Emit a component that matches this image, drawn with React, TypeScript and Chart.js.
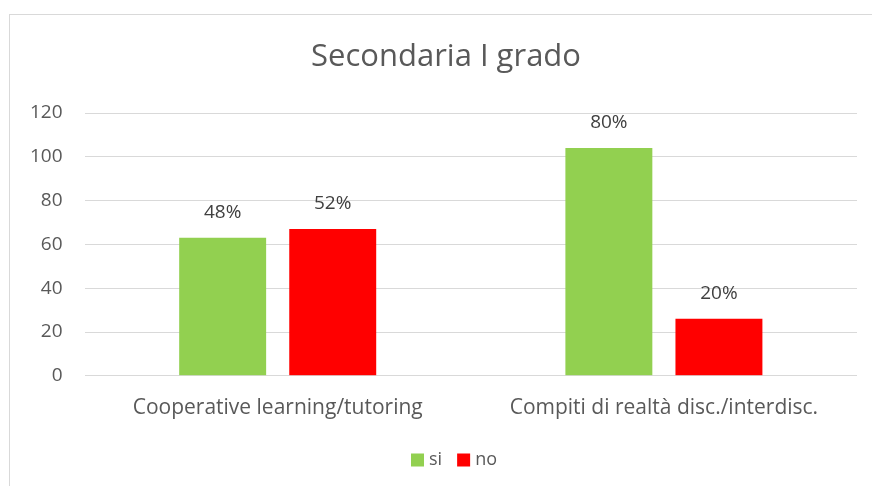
import React, { useEffect, useRef } from "react";
import { Chart, registerables } from "chart.js";

Chart.register(...registerables);

const title = "Secondaria I grado";
const categories = ["Cooperative learning/tutoring", "Compiti di realtà disc./interdisc."];
const seriesNames = ["si", "no"];
const seriesColors = ["#92d050", "#ff0000"];
const siValues = [63, 104];
const noValues = [67, 26];
const siLabels = ["48%", "80%"];
const noLabels = ["52%", "20%"];
const yTicks = [0, 20, 40, 60, 80, 100, 120];

const FONT = "'Open Sans', 'Liberation Sans', sans-serif";
const TEXT = "#595959";

const labelPlugin = {
  id: "barLabels",
  afterDatasetsDraw(chart: any) {
    const ctx = chart.ctx;
    const lists = [siLabels, noLabels];
    ctx.save();
    ctx.font = `19px ${FONT}`;
    ctx.fillStyle = "#404040";
    ctx.textAlign = "center";
    ctx.textBaseline = "middle";
    chart.data.datasets.forEach((_: any, di: number) => {
      const meta = chart.getDatasetMeta(di);
      meta.data.forEach((bar: any, i: number) => {
        ctx.fillText(lists[di][i], bar.x, bar.y - 25);
      });
    });
    ctx.restore();
  },
};

const frameTextPlugin = {
  id: "frameText",
  afterDraw(chart: any) {
    const ctx = chart.ctx;
    ctx.save();
    // title, centred on the chart frame
    ctx.font = `31px ${FONT}`;
    ctx.fillStyle = TEXT;
    ctx.textAlign = "center";
    ctx.textBaseline = "middle";
    ctx.fillText(title, 446, 57);
    // legend
    ctx.font = `18px ${FONT}`;
    ctx.textAlign = "left";
    const widths = seriesNames.map((n) => ctx.measureText(n).width);
    const box = 13, gapText = 5, gapItem = 15;
    const total = widths.reduce((a, w) => a + box + gapText + w, 0) + gapItem * (seriesNames.length - 1);
    let x = 454 - total / 2;
    const cy = 460;
    seriesNames.forEach((n, i) => {
      ctx.fillStyle = seriesColors[i];
      ctx.fillRect(x, cy - box / 2, box, box);
      ctx.fillStyle = TEXT;
      ctx.fillText(n, x + box + gapText, cy);
      x += box + gapText + widths[i] + gapItem;
    });
    ctx.restore();
  },
};

export default function App() {
  const ref = useRef<HTMLCanvasElement>(null);
  useEffect(() => {
    const chart = new Chart(ref.current!, {
      type: "bar",
      data: {
        labels: categories,
        datasets: [
          { label: seriesNames[0], data: siValues, backgroundColor: seriesColors[0], categoryPercentage: 0.57, barPercentage: 0.79 },
          { label: seriesNames[1], data: noValues, backgroundColor: seriesColors[1], categoryPercentage: 0.57, barPercentage: 0.79 },
        ],
      },
      options: {
        animation: false,
        responsive: false,
        layout: { padding: { left: 8, right: 15, top: 113, bottom: 53 } },
        plugins: {
          title: { display: false },
          legend: { display: false },
          tooltip: { enabled: false },
        },
        scales: {
          x: {
            grid: { display: false },
            border: { display: false },
            ticks: { color: TEXT, font: { family: FONT, size: 21 }, padding: 12 },
          },
          y: {
            min: 0,
            max: 120,
            afterBuildTicks: (axis: any) => {
              axis.ticks = yTicks.map((v) => ({ value: v }));
            },
            grid: { color: "#d9d9d9", lineWidth: 1, drawTicks: false },
            border: { display: false },
            ticks: { color: TEXT, font: { family: FONT, size: 19 }, padding: 22 },
          },
        },
      },
      plugins: [labelPlugin, frameTextPlugin],
    });
    return () => chart.destroy();
  }, []);
  return (
    <div style={{ position: "fixed", left: 0, top: 0, width: 872, height: 486, background: "#fff", overflow: "hidden" }}>
      <div style={{ position: "absolute", left: 9, top: 14, width: 880, height: 490, border: "1px solid #d9d9d9" }} />
      <canvas ref={ref} width={872} height={486} style={{ position: "absolute", left: 0, top: 0 }} />
    </div>
  );
}
